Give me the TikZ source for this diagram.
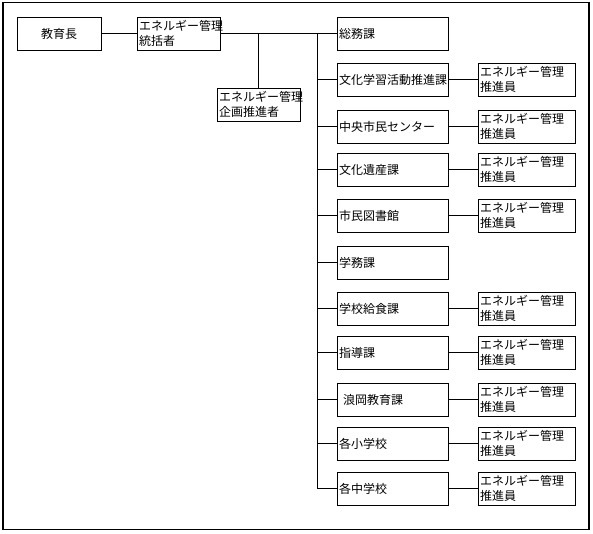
\documentclass[tikz,border=0pt]{standalone}
\usepackage{fontspec}
\newfontfamily\jp{Noto Sans CJK JP}
\begin{document}
\begin{tikzpicture}[x=1pt,y=-1pt,
  box/.style={draw, line width=0.9pt, inner xsep=2pt, inner ysep=0pt, minimum height=33pt, font=\jp\fontsize{12}{15.5}\selectfont, align=left},
  dept/.style={box, text width=107pt, minimum width=111pt},
  rbox/.style={box, text width=93pt, minimum width=97pt},
  tbox/.style={box, text width=79pt, minimum width=83pt},
  conn/.style={line width=0.9pt}]
\useasboundingbox (0,0) rectangle (593,534);
\draw[line width=1.4pt] (3,2.5) rectangle (589,529.5);
\node[box, minimum width=84pt, align=center] (kyo) at (59,33.5) {教育長};
\node[tbox] (tk) at (178.5,33.5) {エネルギー管理\\統括者};
\node[tbox] (kk) at (258.5,104.5) {エネルギー管理\\企画推進者};
\coordinate (trunk) at (317,33.5);
\draw[conn] (kyo.east) -- (tk.east -| tk.west);
\foreach \n/\t/\top/\r in {
  d1/総務課/17/0,
  d2/文化学習活動推進課/63/1,
  d3/中央市民センター/110/1,
  d4/文化遺産課/153/1,
  d5/市民図書館/199/1,
  d6/学務課/246/0,
  d7/学校給食課/292/1,
  d8/指導課/336/1,
  d9/\hspace{4pt}浪岡教育課/383/1,
  d10/各小学校/427/1,
  d11/各中学校/472/1} {
  \node[dept] (\n) at ({392.5},{\top+16.5}) {\t};
  \draw[conn] (trunk |- \n.west) -- (\n.west);
  \ifnum\r=1
    \node[rbox] (r\n) at ({526.5},{\top+16.5}) {エネルギー管理\\推進員};
    \draw[conn] (\n.east) -- (r\n.west);
  \fi
}
\draw[conn] (tk.east) -- (d1.west);
\draw[conn] (trunk) -- (trunk |- d11.west);
\draw[conn] (tk.east -| kk.north) -- (kk.north);
\end{tikzpicture}
\end{document}
